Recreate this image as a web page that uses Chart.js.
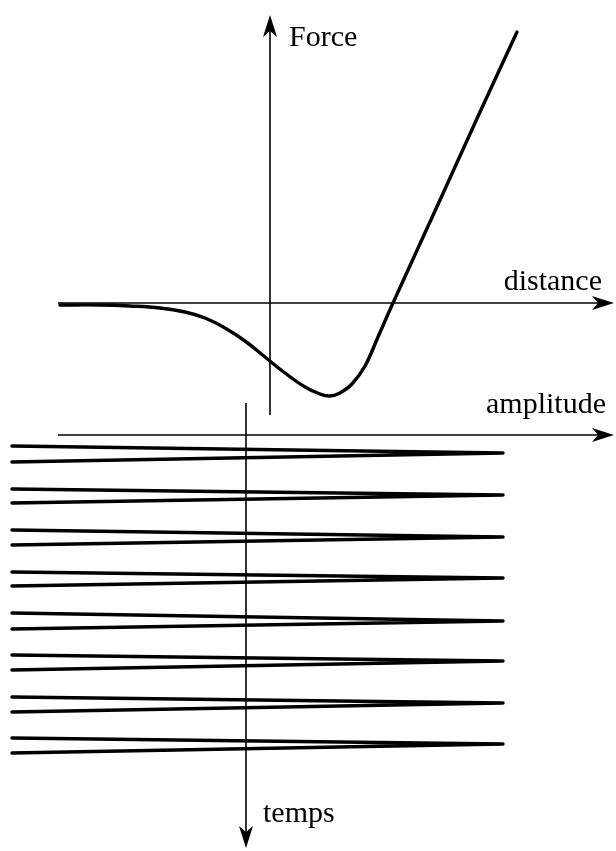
<!DOCTYPE html>
<html>
<head>
<meta charset="utf-8">
<script src="https://cdn.jsdelivr.net/npm/chart.js@4"></script>
<style>
  html, body { margin: 0; padding: 0; background: #fff; }
  canvas { display: block; }
</style>
</head>
<body>
<canvas id="forceChart" width="616" height="851"></canvas>
<script>
// ── Data ──────────────────────────────────────
// Force / distance curve (upper part)
const distance = [-2.10, -1.70, -1.40, -1.10, -0.85, -0.65, -0.45, -0.25, -0.05, 0.15,
                  0.35, 0.50, 0.60, 0.70, 0.82, 0.95, 1.08, 1.23, 1.70, 2.10, 2.47];
const force    = [-0.02, -0.02, -0.03, -0.05, -0.09, -0.15, -0.25, -0.38, -0.54, -0.70,
                  -0.84, -0.91, -0.93, -0.90, -0.81, -0.63, -0.34, 0.00, 1.03, 1.91, 2.71];

// Oscillation trace (lower part): amplitude sweeps vs time
const ampLeft    = -2.34;
const ampTip     = 2.57;
const sweepStart = [0.11, 0.54, 0.95, 1.37, 1.78, 2.20, 2.62, 3.03];
const sweepTip   = [0.18, 0.60, 1.02, 1.43, 1.86, 2.26, 2.68, 3.09];
const sweepEnd   = [0.27, 0.68, 1.10, 1.51, 1.94, 2.35, 2.77, 3.18];

// Axis labels
const axisLabels = ['Force', 'distance', 'amplitude', 'temps'];

// ── Build datasets ────────────────────────────
const curveData = distance.map((d, i) => ({ x: d, y: force[i] }));

const sweepSets = sweepTip.map((t, i) => ({
  data: [
    { x: ampLeft, y: sweepStart[i] },
    { x: ampTip,  y: t },
    { x: ampLeft, y: sweepEnd[i] },
  ],
  xAxisID:         'x2',
  yAxisID:         'y2',
  borderColor:     '#000',
  borderWidth:     3.4,
  borderCapStyle:  'round',
  borderJoinStyle: 'round',
  tension:         0,
  pointRadius:     0,
}));

// ── Arrow axes plugin ─────────────────────────
function arrowHead(ctx, x, y, dx, dy) {
  const L = 22, W = 7, N = 6;
  const px = -dy, py = dx;
  ctx.beginPath();
  ctx.moveTo(x, y);
  ctx.lineTo(x - L * dx + W * px, y - L * dy + W * py);
  ctx.lineTo(x - (L - N) * dx, y - (L - N) * dy);
  ctx.lineTo(x - L * dx - W * px, y - L * dy - W * py);
  ctx.closePath();
  ctx.fill();
}

const axesPlugin = {
  id: 'arrowAxes',
  afterDatasetsDraw(chart) {
    const { ctx, scales } = chart;
    const { x, y, x2, y2 } = scales;
    ctx.save();
    ctx.strokeStyle = '#000';
    ctx.fillStyle   = '#000';
    ctx.lineWidth   = 1.6;

    // distance axis (force = 0)
    const dY = y.getPixelForValue(0);
    const dX0 = x.getPixelForValue(-2.12), dX1 = x.getPixelForValue(3.44);
    ctx.beginPath(); ctx.moveTo(dX0, dY); ctx.lineTo(dX1 - 10, dY); ctx.stroke();
    arrowHead(ctx, dX1, dY, 1, 0);

    // force axis (distance = 0)
    const fX = x.getPixelForValue(0);
    const fY0 = y.getPixelForValue(-1.12), fY1 = y.getPixelForValue(2.88);
    ctx.beginPath(); ctx.moveTo(fX, fY0); ctx.lineTo(fX, fY1 + 10); ctx.stroke();
    arrowHead(ctx, fX, fY1, 0, -1);

    // amplitude axis (time = 0)
    const aY = y2.getPixelForValue(0);
    const aX0 = x2.getPixelForValue(-1.88), aX1 = x2.getPixelForValue(3.68);
    ctx.beginPath(); ctx.moveTo(aX0, aY); ctx.lineTo(aX1 - 10, aY); ctx.stroke();
    arrowHead(ctx, aX1, aY, 1, 0);

    // time axis (amplitude = 0), pointing down
    const tX = x2.getPixelForValue(0);
    const tY0 = y2.getPixelForValue(-0.32), tY1 = y2.getPixelForValue(4.13);
    ctx.beginPath(); ctx.moveTo(tX, tY0); ctx.lineTo(tX, tY1 - 10); ctx.stroke();
    arrowHead(ctx, tX, tY1, 0, 1);

    // labels
    ctx.font = '30px "Liberation Serif", "Times New Roman", serif';
    ctx.textBaseline = 'alphabetic';
    ctx.textAlign = 'left';
    ctx.fillText(axisLabels[0], fX + 19, fY1 + 31);
    ctx.fillText(axisLabels[3], tX + 17, tY1 - 26);
    ctx.textAlign = 'right';
    ctx.fillText(axisLabels[1], dX1 - 12, dY - 13);
    ctx.fillText(axisLabels[2], aX1 - 8, aY - 22);
    ctx.restore();
  }
};

// ── Chart ─────────────────────────────────────
new Chart(document.getElementById('forceChart').getContext('2d'), {
  type: 'line',
  data: {
    datasets: [
      {
        data:            curveData,
        xAxisID:         'x',
        yAxisID:         'y',
        borderColor:     '#000',
        borderWidth:     3.4,
        borderCapStyle:  'round',
        borderJoinStyle: 'round',
        tension:         0.4,
        pointRadius:     0,
      },
      ...sweepSets
    ]
  },
  options: {
    responsive: false,
    animation:  false,
    events:     [],
    layout:     { padding: 0 },
    plugins:    { legend: { display: false }, tooltip: { enabled: false } },
    scales: {
      x:  { type: 'linear', display: false, min: -2.70, max: 3.46 },
      y:  { type: 'linear', display: false, min: -5.48, max: 3.03 },
      x2: { type: 'linear', display: false, min: -2.46, max: 3.70 },
      y2: { type: 'linear', display: false, min: -4.35, max: 4.16, reverse: true },
    }
  },
  plugins: [axesPlugin]
});
</script>
</body>
</html>
